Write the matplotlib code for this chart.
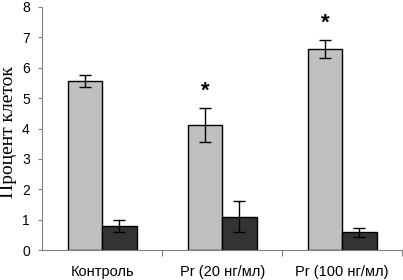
import numpy as np
from matplotlib import pyplot as plt

# data
groups = ["Контроль", "Pr (20 нг/мл)", "Pr (100 нг/мл)"]
light_vals = [5.56, 4.12, 6.63]
light_err = [0.2, 0.55, 0.3]
dark_vals = [0.8, 1.1, 0.58]
dark_err = [0.2, 0.5, 0.15]
stars = [None, "*", "*"]

fig = plt.figure(figsize=(4.03, 2.8), dpi=100)
ax = fig.add_axes([0.105, 0.107, 0.893, 0.868])

x = np.arange(len(groups))
w = 0.286
ax.bar(x - w/2, light_vals, w, color="#c0c0c0", edgecolor="black", linewidth=1.0)
ax.bar(x + w/2, dark_vals, w, color="#333333", edgecolor="black", linewidth=1.0)
ax.errorbar(x - w/2, light_vals, yerr=light_err, fmt="none", ecolor="black",
            elinewidth=1.0, capsize=4, capthick=1.0)
ax.errorbar(x + w/2, dark_vals, yerr=dark_err, fmt="none", ecolor="black",
            elinewidth=1.0, capsize=4, capthick=1.0)

for i, s in enumerate(stars):
    if s:
        ax.text(x[i] - w/2, light_vals[i] + light_err[i] + 0.2, s,
                ha="center", va="bottom", fontsize=16, fontweight="bold",
                family="Liberation Sans")

ax.set_xlim(-0.5, 2.5)
ax.set_ylim(0, 8)
ax.set_yticks(range(0, 9))
ax.set_xticks([0.5, 1.5, 2.5], minor=False)
ax.set_xticklabels([])
ax.set_xticks(x, minor=True)
ax.set_xticklabels(groups, minor=True, family="Liberation Sans", fontsize=10.5)
ax.tick_params(axis="x", which="minor", length=0, pad=11)
ax.tick_params(axis="x", which="major", length=4, direction="out", color="#808080")
ax.tick_params(axis="y", length=3, direction="out", color="#808080",
               labelsize=10, pad=6)
for lbl in ax.get_yticklabels():
    lbl.set_family("Liberation Sans")

ax.spines["top"].set_visible(False)
ax.spines["right"].set_visible(False)
ax.spines["left"].set_color("#808080")
ax.spines["bottom"].set_color("#808080")

fig.text(0.0, 0.53, "Процент клеток", rotation=90, ha="left", va="center",
         family="Liberation Serif", fontsize=14)

fig.savefig("out.png", dpi=100)
